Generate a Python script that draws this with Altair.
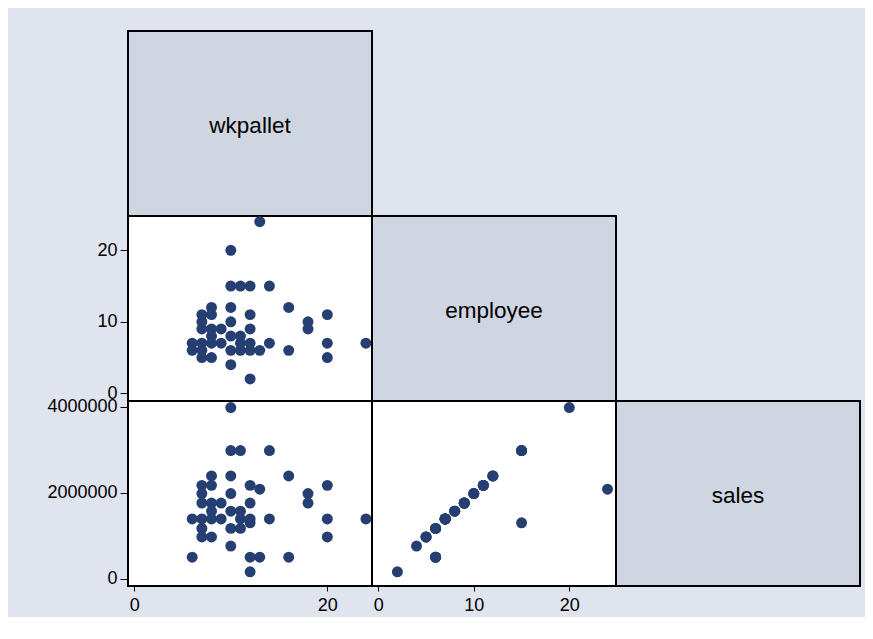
import altair as alt
import pandas as pd

# ---- data ----
variables = ["wkpallet", "employee", "sales"]

wkpallet = [13, 10, 10, 11, 12, 14, 8, 10, 16, 7, 8, 12, 20, 7, 10, 18, 7, 8, 9, 12,
            18, 10, 11, 8, 6, 7, 8, 9, 11, 12, 14, 20, 24, 6, 10, 11, 12, 13, 16, 7,
            8, 20, 10, 12, 7]
employee = [24, 20, 15, 15, 15, 15, 12, 12, 12, 11, 11, 11, 11, 10, 10, 10, 9, 9, 9, 9,
            9, 8, 8, 8, 7, 7, 7, 7, 7, 7, 7, 7, 7, 6, 6, 6, 6, 6, 6, 5,
            5, 5, 4, 2, 6]
sales = [2080000, 3980000, 2980000, 2980000, 1300000, 2980000, 2390000, 2390000, 2390000,
         2170000, 2170000, 2170000, 2170000, 1980000, 1980000, 1980000, 1760000, 1760000,
         1760000, 1760000, 1760000, 1570000, 1570000, 1570000, 1390000, 1390000, 1390000,
         1390000, 1390000, 1390000, 1390000, 1390000, 1390000, 500000, 1170000, 1170000,
         500000, 500000, 500000, 970000, 970000, 970000, 760000, 160000, 1170000]

x_ticks = {"wkpallet": [0, 20], "employee": [0, 10, 20]}
y_ticks = {"employee": [0, 10, 20], "sales": [0, 2000000, 4000000]}
x_domains = {"wkpallet": [-0.653, 24.63], "employee": [-0.66, 24.89]}
y_domains = {"employee": [-1.08, 24.79], "sales": [-170000, 4132000]}

df = pd.DataFrame({"wkpallet": wkpallet, "employee": employee, "sales": sales})

# ---- style ----
W, H = 244, 185
FONT = "Liberation Sans"
NAVY = "#263f72"
BG = "#e0e4ef"
DIAG = "#cfd5e1"


def scatter(xvar, yvar, show_x, show_y):
    xaxis = alt.Axis(values=x_ticks[xvar], format="d", title=None, tickSize=5,
                     labelPadding=5) if show_x else None
    yaxis = alt.Axis(values=y_ticks[yvar], format="d", title=None, tickSize=8,
                     labelPadding=3) if show_y else None
    return alt.Chart(df).mark_circle(size=120, color=NAVY, opacity=1).encode(
        x=alt.X(xvar, type="quantitative",
                scale=alt.Scale(domain=x_domains[xvar], nice=False, zero=False),
                axis=xaxis),
        y=alt.Y(yvar, type="quantitative",
                scale=alt.Scale(domain=y_domains[yvar], nice=False, zero=False),
                axis=yaxis),
    ).properties(width=W, height=H,
                 view=alt.ViewBackground(fill="white", stroke="black", strokeWidth=2))


def diag(name):
    return alt.Chart(pd.DataFrame({"label": [name]})).mark_text(
        font=FONT, fontSize=22.5, color="black", baseline="alphabetic", align="center"
    ).encode(
        x=alt.value(W / 2), y=alt.value(H / 2 + 9), text="label:N"
    ).properties(width=W, height=H,
                 view=alt.ViewBackground(fill=DIAG, stroke="black", strokeWidth=2))


def blank():
    return alt.Chart(pd.DataFrame({"label": [0]})).mark_point(
        size=1, opacity=0, filled=True
    ).encode(
        x=alt.value(W / 2), y=alt.value(H / 2)
    ).properties(width=W, height=H,
                 view=alt.ViewBackground(fill="transparent", stroke="transparent"))


cells = [
    diag(variables[0]), blank(), blank(),
    scatter("wkpallet", "employee", False, True), diag(variables[1]), blank(),
    scatter("wkpallet", "sales", True, True), scatter("employee", "sales", True, False),
    diag(variables[2]),
]

chart = alt.concat(*cells, columns=3, spacing=0, bounds="flush").properties(
    background=BG,
    padding={"left": 37, "top": 22, "right": 4, "bottom": 2},
).configure_axis(
    labelFont=FONT, labelFontSize=18, labelColor="black",
    tickColor="black", tickWidth=1, domainColor="black", domainWidth=1,
    grid=False, labelFlush=False, labelOverlap=False,
)

chart.save("out.html", embed_options={"renderer": "svg", "actions": False})
